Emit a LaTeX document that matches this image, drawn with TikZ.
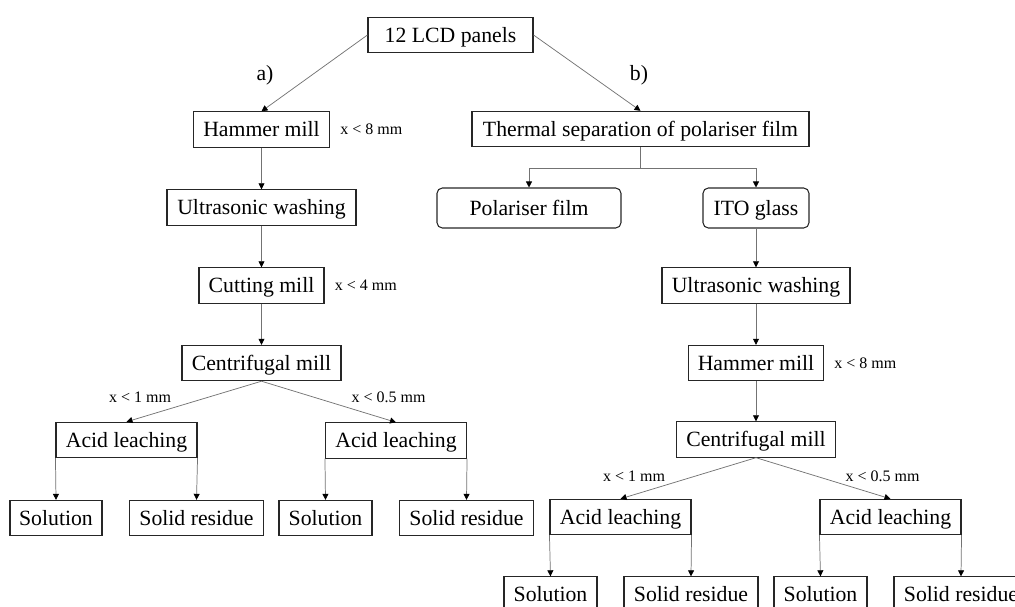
\documentclass[tikz,border=0pt]{standalone}
\usepackage{fontspec}
\setmainfont{Liberation Serif}
\usetikzlibrary{arrows.meta,positioning}

\begin{document}
\begin{tikzpicture}[x=0.75pt,y=-0.75pt,
  font=\fontsize{16.3}{19}\selectfont,
  box/.style={draw=black!85,line width=0.8pt,minimum height=26.5pt,inner sep=0pt,text height=12pt,text depth=1.2pt},
  rbox/.style={box,rounded corners=4pt,minimum height=30pt},
  conn/.style={draw=black!55,line width=0.55pt,-{Triangle[length=4.5pt,width=4.5pt,black]}},
  sizelbl/.style={font=\fontsize{12}{14}\selectfont,inner sep=1pt}]
  \useasboundingbox (0,0) rectangle (1015,607);
  \clip (0,0) rectangle (1015,607);
  % top
  \node[box,minimum width=165*0.75pt] (lcd) at (450.5,35) {12 LCD panels};
  \node at (265,75) (la) {a)};
  \node at (639,75) (lb) {b)};
  % route a)
  \node[box,minimum width=136*0.75pt] (hamA) at (261.5,129.5) {Hammer mill};
  \node[box,minimum width=189*0.75pt] (ultA) at (261.5,207.5) {Ultrasonic washing};
  \node[box,minimum width=125*0.75pt] (cutA) at (261.5,285.5) {Cutting mill};
  \node[box,minimum width=159*0.75pt] (cenA) at (261.5,363) {Centrifugal mill};
  \node[box,minimum width=141*0.75pt] (acidA1) at (126.5,440) {Acid leaching};
  \node[box,minimum width=141*0.75pt] (acidA2) at (396,440.5) {Acid leaching};
  \node[box,minimum width=92*0.75pt] (solA1) at (56,518) {Solution};
  \node[box,minimum width=134*0.75pt] (resA1) at (196.5,518) {Solid residue};
  \node[box,minimum width=93*0.75pt] (solA2) at (325.5,518) {Solution};
  \node[box,minimum width=134*0.75pt] (resA2) at (466.5,518) {Solid residue};
  \node[sizelbl,right=6.5pt of hamA] (hamAlbl) {x < 8 mm};
  \node[sizelbl,right=6.5pt of cutA] (cutAlbl) {x < 4 mm};
  \node[sizelbl] (fineA1) at (140,397) {x < 1 mm};
  \node[sizelbl] (fineA2) at (388.5,397) {x < 0.5 mm};
  % route b)
  \node[box,minimum width=337*0.75pt] (therm) at (640.5,129) {Thermal separation of polariser film};
  \node[rbox,minimum width=184*0.75pt] (polar) at (529,208) {Polariser film};
  \node[rbox,minimum width=106*0.75pt] (ito) at (756,208) {ITO glass};
  \node[box,minimum width=188*0.75pt] (ultB) at (756,285.5) {Ultrasonic washing};
  \node[box,minimum width=135*0.75pt] (hamB) at (756,363) {Hammer mill};
  \node[box,minimum width=159*0.75pt] (cenB) at (756,439.5) {Centrifugal mill};
  \node[box,minimum width=141*0.75pt] (acidB1) at (620.5,517) {Acid leaching};
  \node[box,minimum width=141*0.75pt] (acidB2) at (890.5,517) {Acid leaching};
  \node[box,minimum width=93*0.75pt] (solB1) at (550.5,594.5) {Solution};
  \node[box,minimum width=134*0.75pt] (resB1) at (691,594.5) {Solid residue};
  \node[box,minimum width=93*0.75pt] (solB2) at (820.5,594.5) {Solution};
  \node[box,minimum width=134*0.75pt] (resB2) at (961,594.5) {Solid residue};
  \node[sizelbl,right=6.5pt of hamB] (hamBlbl) {x < 8 mm};
  \node[sizelbl] (fineB1) at (634,476) {x < 1 mm};
  \node[sizelbl] (fineB2) at (882.5,476) {x < 0.5 mm};
  % connectors
  \draw[conn] (lcd.west) -- (hamA.north);
  \draw[conn] (lcd.east) -- (therm.north);
  \draw[conn] (hamA) -- (ultA);
  \draw[conn] (ultA) -- (cutA);
  \draw[conn] (cutA) -- (cenA);
  \draw[conn] (cenA.south) -- (acidA1.north);
  \draw[conn] (cenA.south) -- (acidA2.north);
  \draw[conn] (therm.south) -- ++(0,21) -| (polar.north);
  \draw[conn] (therm.south) -- ++(0,21) -| (ito.north);
  \draw[conn] (ito) -- (ultB);
  \draw[conn] (ultB) -- (hamB);
  \draw[conn] (hamB) -- (cenB);
  \draw[conn] (cenB.south) -- (acidB1.north);
  \draw[conn] (cenB.south) -- (acidB2.north);
  \foreach \src/\sol/\res in {acidA1/solA1/resA1,acidA2/solA2/resA2,acidB1/solB1/resB1,acidB2/solB2/resB2}{
    \draw[conn] (\src.south west) -- (\sol.north);
    \draw[conn] (\src.south east) -- (\res.north);
  }
\end{tikzpicture}
\end{document}
